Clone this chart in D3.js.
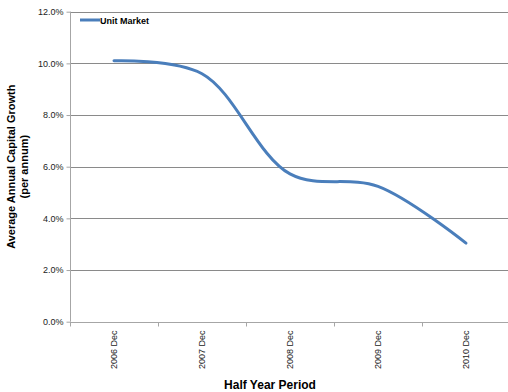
<!DOCTYPE html>
<html>
<head>
<meta charset="utf-8">
<script src="https://cdn.jsdelivr.net/npm/d3@7"></script>
<style>
  html, body { margin: 0; padding: 0; background: #fff; }
  svg { display: block; font-family: "Liberation Sans", Arial, sans-serif; }
</style>
</head>
<body>
<svg id="chart" width="508" height="392"></svg>
<script>
// Half-year periods shown on the category axis
const periods = ["2006 Dec", "2007 Dec", "2008 Dec", "2009 Dec", "2010 Dec"];
// Average annual capital growth (per annum), in percent
const unitMarket = [10.1, 9.6, 5.72, 5.24, 3.04];
// Value-axis ticks, in percent
const yTicks = [0, 2, 4, 6, 8, 10, 12];
const seriesName = "Unit Market";

const svg = d3.select("#chart");
const margin = { left: 70, right: -2, top: 11.7, bottom: 70.3 };
const W = 508, H = 392;
const x = d3.scaleBand().domain(periods).range([margin.left, W - margin.right]);
const y = d3.scaleLinear().domain([0, 12]).range([H - margin.bottom, margin.top]);

// horizontal gridlines
svg.append("g")
  .selectAll("line")
  .data(yTicks.filter(d => d > 0))
  .join("line")
  .attr("x1", margin.left).attr("x2", W)
  .attr("y1", d => Math.round(y(d)) + 0.5).attr("y2", d => Math.round(y(d)) + 0.5)
  .attr("stroke", "#8a8a8a").attr("stroke-width", 1);

// value axis
const yAxis = svg.append("g")
  .attr("transform", `translate(${margin.left + 0.5},0)`)
  .call(d3.axisLeft(y).tickValues(yTicks).tickSize(4).tickPadding(3)
    .tickFormat(d => d.toFixed(1) + "%"));
yAxis.select(".domain").attr("stroke", "#a6a6a6").attr("d", `M0,${y(12)}V${y(0)}`);
yAxis.selectAll(".tick line").attr("stroke", "#a6a6a6");
yAxis.selectAll(".tick text").attr("fill", "#222").style("font-size", "9px");

// category axis with tick marks between categories
const xAxisG = svg.append("g").attr("transform", `translate(0,${Math.round(y(0)) + 0.5})`);
xAxisG.append("line").attr("x1", margin.left).attr("x2", W)
  .attr("stroke", "#a6a6a6");
xAxisG.selectAll("line.tick")
  .data(periods.map((p, i) => i).concat([periods.length]))
  .join("line").attr("class", "tick")
  .attr("x1", i => Math.round(margin.left + i * x.step()) + 0.5)
  .attr("x2", i => Math.round(margin.left + i * x.step()) + 0.5)
  .attr("y1", 0).attr("y2", 4).attr("stroke", "#a6a6a6");
xAxisG.selectAll("text")
  .data(periods)
  .join("text")
  .attr("transform", d => `translate(${x(d) + x.bandwidth() / 2 + 3},8) rotate(-90)`)
  .attr("text-anchor", "end")
  .attr("fill", "#222").style("font-size", "9px")
  .text(d => d);

// smoothed series line
const line = d3.line()
  .x((d, i) => x(periods[i]) + x.bandwidth() / 2)
  .y(d => y(d))
  .curve(d3.curveCatmullRom.alpha(0.5));
svg.append("path")
  .datum(unitMarket)
  .attr("d", line)
  .attr("fill", "none")
  .attr("stroke", "#4a7ebb")
  .attr("stroke-width", 3)
  .attr("stroke-linecap", "round");

// legend
svg.append("line").attr("x1", 80).attr("x2", 100).attr("y1", 20).attr("y2", 20)
  .attr("stroke", "#4a7ebb").attr("stroke-width", 3);
svg.append("text").attr("x", 100).attr("y", 23.5)
  .style("font-size", "9px").style("font-weight", "bold").attr("fill", "#000")
  .text(seriesName);

// axis titles
const yTitle = svg.append("text")
  .attr("transform", `translate(15,${(y(0) + y(12)) / 2}) rotate(-90)`)
  .attr("text-anchor", "middle")
  .style("font-size", "11px").style("font-weight", "bold").attr("fill", "#000");
yTitle.append("tspan").attr("x", 0).attr("dy", 0).text("Average Annual Capital Growth");
yTitle.append("tspan").attr("x", 0).attr("dy", 13).text("(per annum)");

svg.append("text")
  .attr("x", 270).attr("y", 389)
  .attr("text-anchor", "middle")
  .style("font-size", "12px").style("font-weight", "bold").attr("fill", "#000")
  .text("Half Year Period");
</script>
</body>
</html>
